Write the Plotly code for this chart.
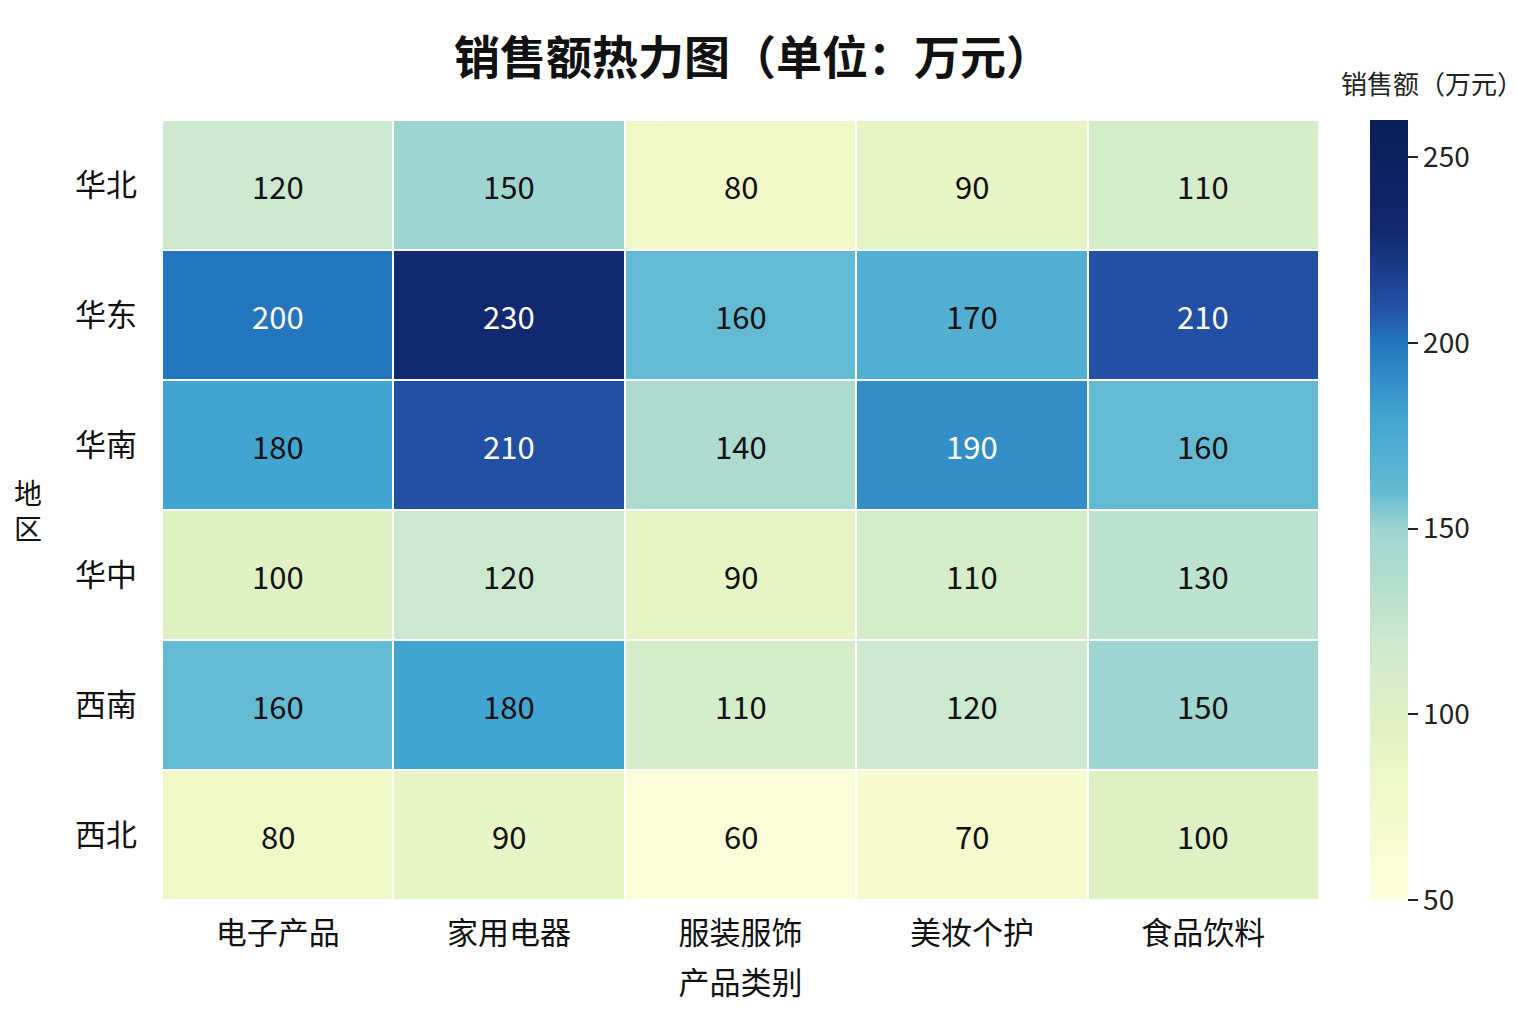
import plotly.graph_objects as go

regions = ['华北', '华东', '华南', '华中', '西南', '西北']
products = ['电子产品', '家用电器', '服装服饰', '美妆个护', '食品饮料']
sales = [
    [120, 150, 80, 90, 110],
    [200, 230, 160, 170, 210],
    [180, 210, 140, 190, 160],
    [100, 120, 90, 110, 130],
    [160, 180, 110, 120, 150],
    [80, 90, 60, 70, 100],
]
cbar_ticks = [50, 100, 150, 200, 250]
z_min, z_max = 50, 260

# YlGnBu-like palette, matched to the colours seen in the reference
scale_vals = [50, 80, 100, 120, 150, 160, 180, 200, 210, 230, 260]
scale_cols = ['rgb(255,255,222)', 'rgb(240,248,200)', 'rgb(222,240,196)',
              'rgb(204,232,206)', 'rgb(158,213,208)', 'rgb(100,186,211)',
              'rgb(66,164,208)', 'rgb(36,118,190)', 'rgb(35,80,165)',
              'rgb(18,40,112)', 'rgb(10,30,88)']
colorscale = [[(v - z_min) / (z_max - z_min), c] for v, c in zip(scale_vals, scale_cols)]

FONT = "Noto Sans CJK SC"

fig = go.Figure(go.Heatmap(
    z=sales, x=products, y=regions,
    colorscale=colorscale, zmin=z_min, zmax=z_max,
    xgap=2, ygap=2,
    colorbar=dict(
        x=1.044, xanchor='left', xpad=0, y=0.5, yanchor='middle', ypad=0,
        len=1.0, thickness=38, outlinewidth=0,
        tickvals=cbar_ticks, ticks='outside', ticklen=10, tickwidth=2,
        tickprefix=' ',
        tickcolor='#222', tickfont=dict(size=28, family=FONT, color='#222'),
    ),
))

# cell labels, white on dark cells
for i, r in enumerate(regions):
    for j, p in enumerate(products):
        v = sales[i][j]
        fig.add_annotation(x=p, y=r, text=str(v), showarrow=False,
                           font=dict(size=31, family=FONT,
                                     color='white' if v >= 185 else '#111'))

fig.add_annotation(text='销售额（万元）', xref='paper', yref='paper',
                   x=1.098, y=1.0, yshift=38, showarrow=False,
                   xanchor='center', yanchor='middle',
                   font=dict(size=26, family=FONT, color='#222'))

# vertical, stacked y-axis title
for k, ch in enumerate(['地', '区']):
    fig.add_annotation(text=ch, xref='paper', yref='paper',
                       x=-0.116, y=0.5, yshift=18 - 36 * k, showarrow=False,
                       xanchor='center', yanchor='middle', borderpad=0,
                       font=dict(size=28, family=FONT, color='#111'))

fig.update_layout(
    width=1536, height=1024,
    margin=dict(l=154, r=225, t=112, b=132),
    paper_bgcolor='white', plot_bgcolor='white',
    font=dict(family=FONT, color='#111'),
    title=dict(text='销售额热力图（单位：万元）', x=0.485, xanchor='center',
               y=1 - 50 / 1024, yanchor='middle',
               font=dict(size=46, family=FONT, weight='bold', color='#111')),
    xaxis=dict(title=dict(text='产品类别', font=dict(size=31), standoff=20),
               tickfont=dict(size=31), showgrid=False, zeroline=False,
               ticks='', ticklabelstandoff=12),
    yaxis=dict(autorange='reversed', tickfont=dict(size=31), showgrid=False,
               zeroline=False, ticks='', ticklabelstandoff=24),
)

fig.write_html("out.html")
